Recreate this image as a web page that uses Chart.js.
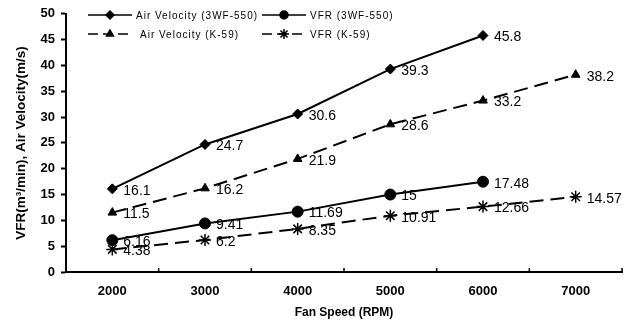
<!DOCTYPE html>
<html>
<head>
<meta charset="utf-8">
<script src="https://cdn.jsdelivr.net/npm/chart.js@4/dist/chart.umd.min.js"></script>
<style>
  body { margin: 0; background: #fff; }
  #wrap { width: 635px; height: 329px; }
</style>
</head>
<body>
<div id="wrap"><canvas id="myChart" width="635" height="329"></canvas></div>
<script>
// data
const rpm = [2000, 3000, 4000, 5000, 6000, 7000]
const airVel3wf = [16.1, 24.7, 30.6, 39.3, 45.8]
const vfr3wf = [6.16, 9.41, 11.69, 15, 17.48]
const airVelK59 = [11.5, 16.2, 21.9, 28.6, 33.2, 38.2]
const vfrK59 = [4.38, 6.2, 8.35, 10.91, 12.66, 14.57]
const seriesNames = ['Air Velocity (3WF-550)', 'VFR (3WF-550)', 'Air Velocity (K-59)', 'VFR (K-59)']
const xLabel = 'Fan Speed (RPM)'
const yLabel = 'VFR(m\u00b3/min), Air Velocity(m/s)'

const font = 'Liberation Sans, Arial, sans-serif'
const toPoints = vals => vals.map((v, i) => ({ x: rpm[i], y: v }))

function series(name, vals, style, dash) {
    return {
        label: name,
        data: toPoints(vals),
        borderColor: '#000',
        backgroundColor: '#000',
        borderWidth: 2,
        borderDash: dash,
        pointStyle: style,
        pointRadius: style == 'star' ? 6 : (style == 'circle' ? 5.5 : 5),
        pointBorderWidth: style == 'star' ? 1.5 : 1,
        tension: 0
    }
}

// labels next to every point
const valueLabels = {
    id: 'valueLabels',
    afterDatasetsDraw(chart) {
        const ctx = chart.ctx
        ctx.save()
        ctx.fillStyle = '#000'
        ctx.font = `14px ${font}`
        ctx.textBaseline = 'middle'
        chart.data.datasets.forEach((ds, i) => {
            chart.getDatasetMeta(i).data.forEach((pt, j) => {
                ctx.fillText(String(ds.data[j].y), pt.x + 11, pt.y + 2)
            })
        })
        ctx.restore()
    }
}

// legend inside the plot, 2 columns + small ticks on the x axis
const insideLegend = {
    id: 'insideLegend',
    afterDraw(chart) {
        const ctx = chart.ctx
        const x = chart.scales.x
        ctx.save()
        ctx.strokeStyle = '#000'
        ctx.lineWidth = 1.5
        for (let v = 2500; v <= 7500; v += 1000) {
            const px = x.getPixelForValue(v)
            ctx.beginPath()
            ctx.moveTo(px, x.top)
            ctx.lineTo(px, x.top - 4)
            ctx.stroke()
        }
        chart.data.datasets.forEach((ds, i) => {
            const col = i % 2
            const row = Math.floor(i / 2)
            const x0 = col == 0 ? 88 : 262
            const y0 = row == 0 ? 15 : 34
            const len = 44
            const textX = (col == 0 && row == 1) ? x0 + len + 8 : x0 + len + 4
            ctx.strokeStyle = '#000'
            ctx.lineWidth = 1.5
            ctx.setLineDash(ds.borderDash.length ? [10, 5] : [])
            ctx.beginPath()
            ctx.moveTo(x0, y0)
            ctx.lineTo(x0 + len, y0)
            ctx.stroke()
            ctx.setLineDash([])
            Chart.helpers.drawPoint(ctx, {
                pointStyle: ds.pointStyle,
                radius: ds.pointStyle == 'star' ? 5 : 4,
                borderWidth: ds.pointBorderWidth,
                rotation: 0
            }, x0 + len / 2, y0)
            ctx.fillStyle = '#000'
            ctx.font = `10px ${font}`
            ctx.letterSpacing = '1px'
            ctx.textBaseline = 'middle'
            ctx.fillText(ds.label, textX, y0 + 1)
            ctx.letterSpacing = '0px'
        })
        ctx.restore()
    }
}

const whiteBg = {
    id: 'whiteBg',
    beforeDraw(chart) {
        const ctx = chart.ctx
        ctx.save()
        ctx.fillStyle = '#fff'
        ctx.fillRect(0, 0, chart.width, chart.height)
        ctx.restore()
    }
}

const config = {
    type: 'line',
    data: {
        datasets: [
            series(seriesNames[0], airVel3wf, 'rectRot', []),
            series(seriesNames[1], vfr3wf, 'circle', []),
            series(seriesNames[2], airVelK59, 'triangle', [14, 7]),
            series(seriesNames[3], vfrK59, 'star', [14, 7])
        ]
    },
    options: {
        responsive: false,
        animation: false,
        layout: {
            padding: { top: 12, right: 13, left: 0, bottom: 0 },
            autoPadding: false
        },
        plugins: {
            legend: { display: false },
            tooltip: { enabled: false }
        },
        scales: {
            x: {
                type: 'linear',
                min: 1500,
                max: 7500,
                afterFit: s => { s.height = 57 },
                afterBuildTicks: s => { s.ticks = rpm.map(v => ({ value: v })) },
                grid: { display: false },
                border: { display: true, color: '#000', width: 2 },
                ticks: {
                    color: '#000',
                    padding: 4,
                    maxRotation: 0,
                    callback: v => String(v),
                    font: { family: font, size: 13, weight: 'bold' }
                },
                title: {
                    display: true,
                    text: xLabel,
                    color: '#000',
                    padding: { top: 0, bottom: 9 },
                    font: { family: font, size: 12, weight: 'bold' }
                }
            },
            y: {
                min: 0,
                max: 50,
                afterFit: s => { s.width = 66 },
                grid: {
                    drawOnChartArea: false,
                    drawTicks: true,
                    tickLength: 5,
                    tickWidth: 2,
                    tickColor: '#000'
                },
                border: { display: true, color: '#000', width: 2 },
                ticks: {
                    stepSize: 5,
                    color: '#000',
                    padding: 6,
                    font: { family: font, size: 13, weight: 'bold' }
                },
                title: {
                    display: true,
                    text: yLabel,
                    color: '#000',
                    padding: { top: 13, bottom: 0 },
                    font: { family: font, size: 13.5, weight: 'bold' }
                }
            }
        }
    },
    plugins: [whiteBg, valueLabels, insideLegend]
}

new Chart(document.getElementById('myChart'), config)
</script>
</body>
</html>
